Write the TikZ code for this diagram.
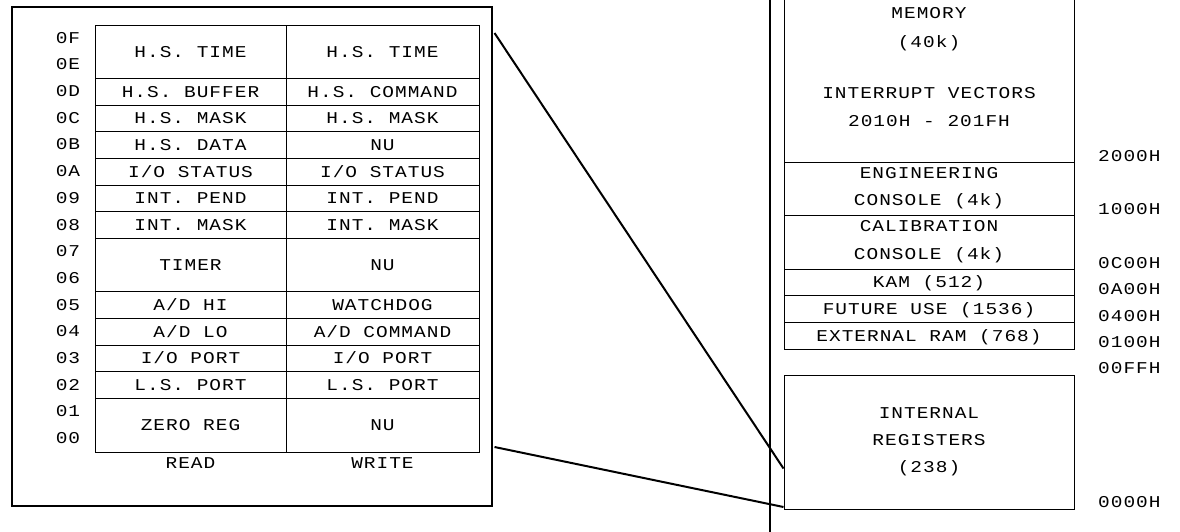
\documentclass[tikz,border=0pt]{standalone}
\usepackage{fontspec}
\newfontfamily\mono[FakeStretch=1.18, LetterSpace=6]{Liberation Mono}
\tikzset{
  lbl/.style={font=\mono\fontsize{16.5}{16.5}\selectfont, inner sep=0pt, text height=10.7pt, text depth=0pt, anchor=center},
  frame/.style={line width=2pt},
  cell/.style={draw, line width=1pt, inner sep=0pt, text height=10.7pt, text depth=0pt,
               font=\mono\fontsize{16.5}{16.5}\selectfont},
  link/.style={line width=2pt},
}
\newcommand\regunit{26.6875}
% #1 name, #2 first row, #3 rows spanned, #4 read text, #5 write text
\newcommand\regrow[5]{%
  \node[cell, minimum width=191pt, minimum height=#3*\regunit pt] (#1r)
    at (190.5, {25+(#2+#3/2)*\regunit}) {#4};
  \node[cell, minimum width=193pt, minimum height=#3*\regunit pt] (#1w)
    at (382.5, {25+(#2+#3/2)*\regunit}) {#5};
}
\begin{document}
\begin{tikzpicture}[x=1pt, y=-1pt]
\useasboundingbox (0,0) rectangle (1180,531);

% register file, enlarged
\node[draw, frame, minimum width=480pt, minimum height=499pt, inner sep=0pt] (zoombox) at (251.5, 256.5) {};

\regrow{r0F}{0}{2}{H.S. TIME}{H.S. TIME}
\regrow{r0D}{2}{1}{H.S. BUFFER}{H.S. COMMAND}
\regrow{r0C}{3}{1}{H.S. MASK}{H.S. MASK}
\regrow{r0B}{4}{1}{H.S. DATA}{NU}
\regrow{r0A}{5}{1}{I/O STATUS}{I/O STATUS}
\regrow{r09}{6}{1}{INT. PEND}{INT. PEND}
\regrow{r08}{7}{1}{INT. MASK}{INT. MASK}
\regrow{r07}{8}{2}{TIMER}{NU}
\regrow{r05}{10}{1}{A/D HI}{WATCHDOG}
\regrow{r04}{11}{1}{A/D LO}{A/D COMMAND}
\regrow{r03}{12}{1}{I/O PORT}{I/O PORT}
\regrow{r02}{13}{1}{L.S. PORT}{L.S. PORT}
\regrow{r01}{14}{2}{ZERO REG}{NU}

\foreach \t [count=\i from 0] in {0F,0E,0D,0C,0B,0A,09,08,07,06,05,04,03,02,01,00}
  \node[lbl] (a\t) at (68, {24.5+(\i+0.5)*\regunit}) {\t};

\node[lbl] (readlbl) at (190.5, 463) {READ};
\node[lbl] (writelbl) at (382.5, 463) {WRITE};

% memory map
\coordinate (busTop) at (770,-5);
\coordinate (busBottom) at (770,536);
\draw[frame] (busTop) -- (busBottom);

\node[draw, line width=1pt, minimum width=290pt, minimum height=172.7pt, inner sep=0pt] (memory) at (929, 76.35) {};
\node[lbl] (memA) at (929, 13.3) {MEMORY};
\node[lbl] (memB) at (929, 41.7) {(40k)};
\node[lbl] (memC) at (929, 93.3) {INTERRUPT VECTORS};
\node[lbl] (memD) at (929, 120.7) {2010H - 201FH};

\node[draw, line width=1pt, minimum width=290pt, minimum height=52.6pt, inner sep=0pt] (eng) at (929, 189) {};
\node[lbl] (engA) at (929, 173.3) {ENGINEERING};
\node[lbl] (engB) at (929, 200) {CONSOLE (4k)};

\node[draw, line width=1pt, minimum width=290pt, minimum height=54pt, inner sep=0pt] (cal) at (929, 242.3) {};
\node[lbl] (calA) at (929, 226.5) {CALIBRATION};
\node[lbl] (calB) at (929, 254.3) {CONSOLE (4k)};

\node[cell, minimum width=290pt, minimum height=26pt] (kam) at (929, 282.3) {KAM (512)};
\node[cell, minimum width=290pt, minimum height=27pt] (future) at (929, 308.8) {FUTURE USE (1536)};
\node[cell, minimum width=290pt, minimum height=27pt] (extram) at (929, 335.8) {EXTERNAL RAM (768)};

\node[draw, line width=1pt, minimum width=290pt, minimum height=133.3pt, inner sep=0pt] (regs) at (929, 442.35) {};
\node[lbl] (regsA) at (929, 413.3) {INTERNAL};
\node[lbl] (regsB) at (929, 440.3) {REGISTERS};
\node[lbl] (regsC) at (929, 466.7) {(238)};

% addresses
\node[lbl, anchor=west] (h2000) at (1098, 156) {2000H};
\node[lbl, anchor=west] (h1000) at (1098, 209) {1000H};
\node[lbl, anchor=west] (h0C00) at (1098, 263) {0C00H};
\node[lbl, anchor=west] (h0A00) at (1098, 289.3) {0A00H};
\node[lbl, anchor=west] (h0400) at (1098, 315.7) {0400H};
\node[lbl, anchor=west] (h0100) at (1098, 342.3) {0100H};
\node[lbl, anchor=west] (h00FF) at (1098, 368.3) {00FFH};
\node[lbl, anchor=west] (h0000) at (1098, 502.3) {0000H};

% zoom lines from the register block to the enlarged view
\path (zoombox.north east) ++(2,27) coordinate (zoomA);
\path (zoombox.north east) ++(2,441) coordinate (zoomB);
\path (regs.south west) ++(0,-41) coordinate (regsTop);
\path (regs.south west) ++(0,-2.5) coordinate (regsBot);
\draw[link] (zoomA) -- (regsTop);
\draw[link] (zoomB) -- (regsBot);
\end{tikzpicture}
\end{document}
